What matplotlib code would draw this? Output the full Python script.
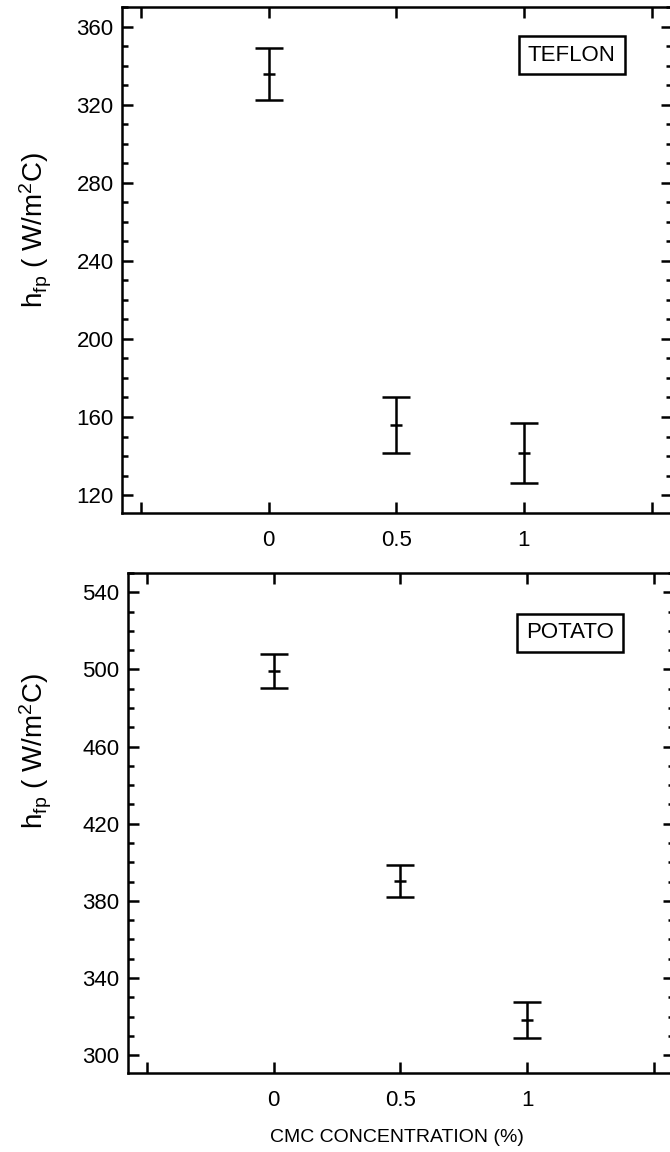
import matplotlib
matplotlib.use("Agg")
import matplotlib.pyplot as plt
from matplotlib.ticker import FixedLocator, FixedFormatter, MultipleLocator

plt.rcParams["font.family"] = ["Liberation Sans", "DejaVu Sans"]
plt.rcParams["mathtext.default"] = "regular"

# CMC concentration (%)
cmc = [0.0, 0.5, 1.0]

# h_fp, teflon and potato (W/m^2 C)
teflon_mean = [335.8, 155.8, 141.5]
teflon_err = [13.3, 14.5, 15.2]
potato_mean = [499.1, 390.3, 318.2]
potato_err = [8.8, 8.4, 9.3]

x_ticks = [-0.5, 0.0, 0.5, 1.0, 1.5]
x_tick_labels = ["", "0", "0.5", "1", ""]

W, H = 670, 1152
fig = plt.figure(figsize=(W / 100, H / 100), dpi=100)


def px_axes(left, right, top, bottom):
    return fig.add_axes([left / W, 1 - bottom / H, (right - left) / W, (bottom - top) / H])


def style_axes(ax, ylim, yoffset):
    ax.set_xlim(-0.575, 1.58)
    ax.set_ylim(*ylim)
    ax.xaxis.set_major_locator(FixedLocator(x_ticks))
    ax.xaxis.set_major_formatter(FixedFormatter(x_tick_labels))
    ax.yaxis.set_major_locator(MultipleLocator(40, offset=yoffset))
    ax.yaxis.set_minor_locator(MultipleLocator(10))
    ax.tick_params(which="both", direction="in", top=True, right=True, width=1.8)
    ax.tick_params(which="major", length=8, labelsize=16, pad=6)
    ax.tick_params(axis="x", which="major", pad=12)
    ax.tick_params(which="minor", length=4.5)
    for s in ax.spines.values():
        s.set_linewidth(1.8)


def draw_bars(ax, means, errs):
    ax.errorbar(cmc, means, yerr=errs, fmt="_", color="black", ms=8, mew=1.8,
                elinewidth=1.8, capsize=10, capthick=1.8)


ax1 = px_axes(122, 672, 7, 513)
style_axes(ax1, (110.8, 370.1), 0)
draw_bars(ax1, teflon_mean, teflon_err)
ax1.text(0.818, 0.905, "TEFLON", transform=ax1.transAxes, ha="center", va="center",
         fontsize=16, bbox=dict(boxstyle="square,pad=0.4", fc="white", ec="black", lw=1.8))

ax2 = px_axes(128, 674, 573, 1073)
style_axes(ax2, (290.7, 550.0), 20)
draw_bars(ax2, potato_mean, potato_err)
ax2.text(0.81, 0.88, "POTATO", transform=ax2.transAxes, ha="center", va="center",
         fontsize=16, bbox=dict(boxstyle="square,pad=0.4", fc="white", ec="black", lw=1.8))

ylab = r"h$_{fp}$ ( W/m$^{2}$C)"
fig.text(36 / W, 1 - 230 / H, ylab, rotation=90, ha="center", va="center", fontsize=20)
fig.text(36 / W, 1 - 751 / H, ylab, rotation=90, ha="center", va="center", fontsize=20)

fig.text(397 / W, 1 - 1137 / H, "CMC CONCENTRATION (%)", ha="center", va="center", fontsize=14)

fig.savefig("out.png", dpi=100, facecolor="white")
